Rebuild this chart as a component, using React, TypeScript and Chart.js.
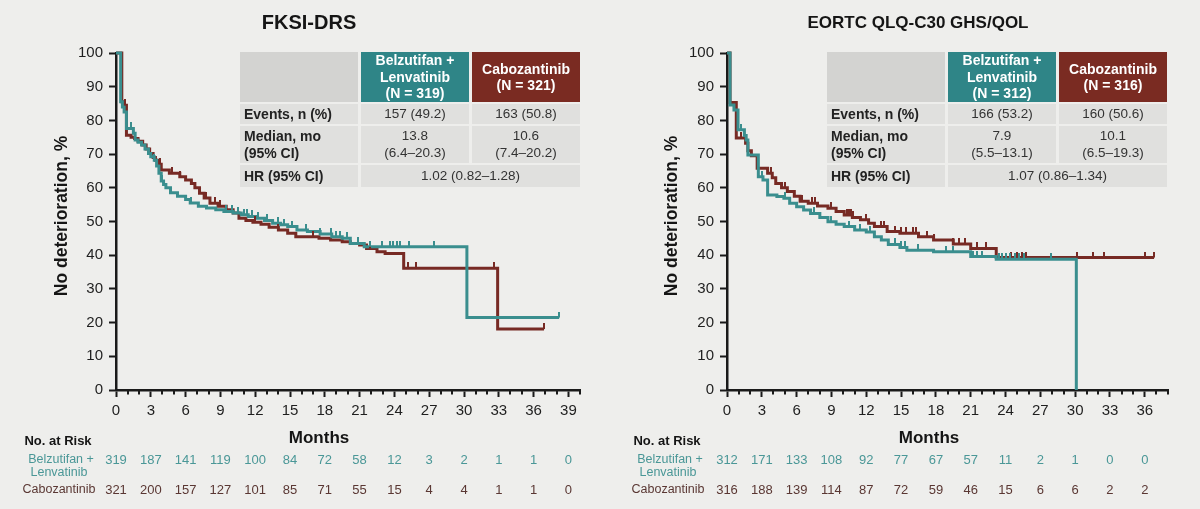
import React, { useEffect, useRef } from "react";
import { Chart, registerables } from "chart.js";

Chart.register(...registerables);

const FONT = "'Liberation Sans', Arial, Helvetica, sans-serif";
const BG = "#eeeeec";
const AXIS = "#1a1a1a";
const TEAL = "#3a8e8e";
const BROWN = "#772a24";
const TEAL_HEAD = "#2f8587";
const BROWN_HEAD = "#7a2b22";
const TEAL_TEXT = "#4a9797";
const BROWN_TEXT = "#5a3733";

// ---------- FKSI-DRS ----------
const fksiBelzLenTimes = [0, 0.4, 0.55, 0.7, 0.9, 1.5, 1.65, 1.9, 2.2, 2.5, 2.8, 3.0, 3.3, 3.5, 3.7, 3.9, 4.1, 4.3, 4.7, 5.3, 6.0, 6.4, 7.1, 7.8, 8.6, 9.3, 10.1, 10.8, 11.4, 12.1, 12.8, 13.5, 14.2, 14.8, 15.6, 16.5, 17.6, 18.6, 19.5, 20.2, 21.4, 30.25, 38.2];
const fksiBelzLenValues = [100, 85.5, 84, 82.5, 77.6, 76.2, 74.2, 73.5, 72.7, 71.5, 70.2, 69.2, 68.2, 66.5, 64.3, 62, 61, 60, 58.5, 57.5, 56.5, 55.5, 54.5, 54, 53.5, 53, 52.5, 52, 51.5, 51, 50.3, 49.5, 49, 48.5, 47.5, 47, 46.3, 45.5, 45, 43.5, 42.5, 21.5, 21.5];
const fksiCaboTimes = [0, 0.5, 0.7, 0.9, 1.3, 1.6, 1.9, 2.3, 2.6, 2.9, 3.2, 3.4, 3.6, 3.9, 4.6, 5.5, 6.0, 6.5, 6.8, 7.2, 7.6, 8.1, 8.8, 9.5, 10.1, 10.6, 11.2, 11.8, 12.5, 13.2, 14.0, 14.8, 15.5, 17.5, 18.5, 19.5, 20.2, 21.0, 21.6, 22.5, 23.2, 24.8, 32.9, 36.9];
const fksiCaboValues = [100, 85.5, 84.5, 75.6, 75, 74.6, 73.8, 72.7, 71.5, 70.2, 69, 68.2, 67, 65.3, 64.3, 63.3, 62.3, 61.3, 60, 58.4, 57, 55.4, 54.5, 53.5, 52.5, 51, 50.3, 49.8, 49.2, 48.3, 47.5, 46.5, 45.5, 45, 44.5, 44, 43.5, 43, 42, 41, 40.5, 36.1, 18.1, 18.1];
const fksiBelzLenCensored = [1.3, 3.3, 4.0, 6.5, 9.5, 10.0, 10.5, 11.0, 11.3, 11.7, 12.2, 13.0, 14.0, 14.5, 15.2, 16.4, 17.6, 18.5, 19.0, 19.3, 19.9, 20.9, 21.9, 22.9, 23.6, 23.9, 24.2, 24.5, 25.3, 27.4, 38.2];
const fksiCaboCensored = [0.8, 3.8, 4.8, 5.5, 7.8, 8.5, 9.0, 12.0, 14.0, 17.0, 21.9, 25.2, 25.9, 32.6, 36.9];
const fksiRiskMonths = [0, 3, 6, 9, 12, 15, 18, 21, 24, 27, 30, 33, 36, 39];
const fksiRiskBelzLen = [319, 187, 141, 119, 100, 84, 72, 58, 12, 3, 2, 1, 1, 0];
const fksiRiskCabo = [321, 200, 157, 127, 101, 85, 71, 55, 15, 4, 4, 1, 1, 0];
const fksiN = [319, 321];
const fksiEvents = ["157 (49.2)", "163 (50.8)"];
const fksiMedian = ["13.8", "10.6"];
const fksiMedianCI = ["(6.4\u201320.3)", "(7.4\u201320.2)"];
const fksiHR = "1.02 (0.82\u20131.28)";

// ---------- EORTC QLQ-C30 GHS/QOL ----------
const eortcBelzLenTimes = [0, 0.26, 0.6, 0.95, 1.5, 1.65, 1.8, 2.7, 3.1, 3.5, 4.3, 4.9, 5.4, 6.0, 6.6, 7.2, 8.0, 8.7, 9.4, 10.1, 11.0, 12.0, 12.7, 13.3, 13.9, 14.9, 15.5, 17.8, 21.0, 23.2, 30.1];
const eortcBelzLenValues = [100, 84.6, 83.1, 77.2, 75.5, 74.2, 69.7, 63.3, 62.3, 57.9, 57.4, 56.9, 55.4, 54.4, 53.4, 52.4, 51.2, 49.9, 49.2, 48.5, 47.5, 46.9, 45.5, 44.5, 43.2, 42.3, 41.5, 41, 39.6, 38.8, 0];
const eortcCaboTimes = [0, 0.26, 0.8, 1.6, 1.8, 2.1, 2.6, 3.5, 3.9, 4.2, 4.7, 5.2, 5.8, 6.3, 7.0, 7.8, 8.7, 9.4, 10.1, 10.8, 11.5, 12.2, 12.7, 13.8, 14.9, 16.5, 17.8, 19.5, 21.0, 23.2, 36.8];
const eortcCaboValues = [100, 85.3, 74.8, 73.2, 71, 69.5, 65.8, 64.3, 63, 61.3, 60, 58.9, 57.5, 56, 55.4, 54.6, 53.9, 53, 51.9, 51.2, 50.5, 49.5, 48.5, 47, 46.5, 45.5, 44.5, 43.3, 42, 39.3, 39.3];
const eortcBelzLenCensored = [1.2, 3.0, 5.0, 7.5, 9.0, 10.5, 11.5, 12.3, 14.5, 15.0, 15.3, 16.5, 18.9, 19.5, 21.2, 21.5, 22.0, 23.4, 23.7, 24.0, 24.4, 24.8, 25.2, 25.6, 27.9];
const eortcCaboCensored = [1.2, 3.8, 5.0, 6.5, 7.3, 7.6, 9.0, 10.3, 10.5, 10.7, 10.9, 12.0, 13.3, 13.5, 14.5, 15.0, 15.4, 16.0, 16.3, 17.2, 17.8, 19.5, 20.0, 20.5, 21.5, 22.3, 24.5, 25.0, 25.4, 25.8, 30.2, 31.5, 32.5, 36.0, 36.8];
const eortcRiskMonths = [0, 3, 6, 9, 12, 15, 18, 21, 24, 27, 30, 33, 36];
const eortcRiskBelzLen = [312, 171, 133, 108, 92, 77, 67, 57, 11, 2, 1, 0, 0];
const eortcRiskCabo = [316, 188, 139, 114, 87, 72, 59, 46, 15, 6, 6, 2, 2];
const eortcN = [312, 316];
const eortcEvents = ["166 (53.2)", "160 (50.6)"];
const eortcMedian = ["7.9", "10.1"];
const eortcMedianCI = ["(5.5\u201313.1)", "(6.5\u201319.3)"];
const eortcHR = "1.07 (0.86\u20131.34)";

type PanelProps = {
  title: string;
  titleSize: number;
  titleX: number;
  monthsX: number;
  xMax: number;
  belzTimes: number[];
  belzValues: number[];
  caboTimes: number[];
  caboValues: number[];
  belzCensored: number[];
  caboCensored: number[];
  riskMonths: number[];
  riskBelz: number[];
  riskCabo: number[];
  n: number[];
  events: string[];
  median: string[];
  medianCI: string[];
  hr: string;
  offsetX: number;
  plotLeft: number;
  plotRight: number;
  tableLeft: number;
  labelX: number;
  yTitleX: number;
};

const PLOT_TOP = 53;
const PLOT_BOTTOM = 390;
const CANVAS_W = 600;
const CANVAS_H = 509;

// survival level of a step curve at month t
function levelAt(times: number[], values: number[], t: number) {
  let v = values[0];
  for (let i = 0; i < times.length; i++) if (times[i] <= t) v = values[i];
  return v;
}

// upward censoring tick used as a point image
function censorMark(color: string) {
  const c = document.createElement("canvas");
  c.width = 2;
  c.height = 12;
  const g = c.getContext("2d")!;
  g.fillStyle = color;
  g.fillRect(0, 0, 2, 6);
  return c;
}

function KMPanel(p: PanelProps) {
  const ref = useRef<HTMLCanvasElement | null>(null);

  useEffect(() => {
    if (!ref.current) return;
    const belzCurve = p.belzTimes.map((t, i) => ({ x: t, y: p.belzValues[i] }));
    const caboCurve = p.caboTimes.map((t, i) => ({ x: t, y: p.caboValues[i] }));
    const belzMarks = p.belzCensored.map((t) => ({ x: t, y: levelAt(p.belzTimes, p.belzValues, t) }));
    const caboMarks = p.caboCensored.map((t) => ({ x: t, y: levelAt(p.caboTimes, p.caboValues, t) }));

    const textPlugin = {
      id: "panelText",
      afterDraw(chart: any) {
        const { ctx, chartArea } = chart;
        const xs = chart.scales.x;
        ctx.save();
        ctx.textAlign = "center";
        ctx.textBaseline = "middle";
        ctx.fillStyle = "#151515";

        ctx.font = `bold ${p.titleSize}px ${FONT}`;
        ctx.fillText(p.title, p.titleX, 23);

        ctx.save();
        ctx.translate(p.yTitleX, 216);
        ctx.rotate(-Math.PI / 2);
        ctx.font = `bold 17.5px ${FONT}`;
        ctx.fillText("No deterioration, %", 0, 0);
        ctx.restore();

        // minor month ticks
        ctx.strokeStyle = AXIS;
        ctx.lineWidth = 2;
        for (let m = xs.min; m <= xs.max; m++) {
          if (m % 3 === 0) continue;
          const px = Math.round(xs.getPixelForValue(m));
          ctx.beginPath();
          ctx.moveTo(px, chartArea.bottom);
          ctx.lineTo(px, chartArea.bottom + 4.5);
          ctx.stroke();
        }

        ctx.fillStyle = "#151515";
        ctx.font = `bold 17px ${FONT}`;
        ctx.fillText("Months", p.monthsX, 438);

        ctx.font = `bold 13px ${FONT}`;
        ctx.fillText("No. at Risk", p.labelX - 2, 441);

        ctx.font = `12.5px ${FONT}`;
        ctx.fillStyle = TEAL_TEXT;
        ctx.fillText("Belzutifan +", p.labelX + 1, 460);
        ctx.fillText("Lenvatinib", p.labelX - 1, 473);
        ctx.fillStyle = BROWN_TEXT;
        ctx.fillText("Cabozantinib", p.labelX - 1, 490);

        ctx.font = `13px ${FONT}`;
        p.riskMonths.forEach((m, i) => {
          const px = xs.getPixelForValue(m);
          ctx.fillStyle = TEAL_TEXT;
          ctx.fillText(String(p.riskBelz[i]), px, 460);
          ctx.fillStyle = BROWN_TEXT;
          ctx.fillText(String(p.riskCabo[i]), px, 490);
        });
        ctx.restore();
      },
    };

    const chart = new Chart(ref.current, {
      type: "line",
      data: {
        datasets: [
          {
            data: belzMarks,
            showLine: false,
            pointStyle: censorMark(TEAL) as any,
            pointRadius: 3,
            pointHoverRadius: 3,
          },
          {
            data: caboMarks,
            showLine: false,
            pointStyle: censorMark(BROWN) as any,
            pointRadius: 3,
            pointHoverRadius: 3,
          },
          {
            data: belzCurve,
            stepped: "before",
            borderColor: TEAL,
            borderWidth: 3,
            pointRadius: 0,
            fill: false,
            clip: false as any,
          },
          {
            data: caboCurve,
            stepped: "before",
            borderColor: BROWN,
            borderWidth: 3,
            pointRadius: 0,
            fill: false,
            clip: false as any,
          },
        ],
      },
      options: {
        animation: false,
        responsive: false,
        devicePixelRatio: 1,
        events: [],
        layout: {
          padding: {
            left: p.plotLeft - 60,
            top: PLOT_TOP,
            right: CANVAS_W - p.plotRight,
            bottom: CANVAS_H - PLOT_BOTTOM - 30,
          },
        },
        plugins: {
          legend: { display: false },
          title: { display: false },
          tooltip: { enabled: false },
        },
        scales: {
          x: {
            type: "linear",
            min: 0,
            max: p.xMax,
            afterFit: (s: any) => {
              s.height = 30;
            },
            border: { color: AXIS, width: 2.5 },
            grid: {
              drawOnChartArea: false,
              drawTicks: true,
              tickLength: 7,
              tickWidth: 2,
              tickColor: (c: any) => (c.tick && c.tick.value % 3 === 0 ? AXIS : "rgba(0,0,0,0)"),
            },
            ticks: {
              stepSize: 1,
              autoSkip: false,
              maxTicksLimit: 100,
              maxRotation: 0,
              padding: 5,
              color: "#1f1f1f",
              font: { family: FONT, size: 15 },
              callback: (v: any) => (Number(v) % 3 === 0 ? String(v) : ""),
            },
          },
          y: {
            min: 0,
            max: 100,
            afterFit: (s: any) => {
              s.width = 60;
            },
            border: { color: AXIS, width: 2.5 },
            grid: {
              drawOnChartArea: false,
              tickLength: 7,
              tickWidth: 2,
              tickColor: AXIS,
            },
            ticks: {
              stepSize: 10,
              padding: 6,
              color: "#1f1f1f",
              font: { family: FONT, size: 15 },
            },
          },
        },
      },
      plugins: [textPlugin],
    });
    return () => chart.destroy();
  }, []);

  const cellBase: React.CSSProperties = {
    background: "#e0e0de",
    display: "flex",
    alignItems: "center",
    fontSize: 13.5,
    color: "#333",
  };
  const label: React.CSSProperties = {
    ...cellBase,
    fontWeight: "bold",
    fontSize: 14,
    color: "#222",
    paddingLeft: 4,
    lineHeight: "16.5px",
  };
  const value: React.CSSProperties = {
    ...cellBase,
    justifyContent: "center",
    textAlign: "center",
    lineHeight: "16.5px",
  };
  const head: React.CSSProperties = {
    display: "flex",
    alignItems: "center",
    justifyContent: "center",
    textAlign: "center",
    color: "#fff",
    fontWeight: "bold",
    fontSize: 14,
    lineHeight: "16.5px",
    overflow: "hidden",
  };

  return (
    <div style={{ position: "absolute", left: p.offsetX, top: 0, width: CANVAS_W, height: CANVAS_H }}>
      <canvas ref={ref} width={CANVAS_W} height={CANVAS_H} style={{ display: "block", width: CANVAS_W, height: CANVAS_H }} />
      <div
        style={{
          position: "absolute",
          left: p.tableLeft,
          top: 52,
          display: "grid",
          gridTemplateColumns: "118px 108px 108px",
          gridTemplateRows: "50px 20px 37px 22px",
          columnGap: 3,
          rowGap: 2,
          fontFamily: FONT,
        }}
      >
        <div style={{ background: "#d3d3d1" }} />
        <div style={{ ...head, background: TEAL_HEAD }}>
          <div>
            Belzutifan +<br />
            Lenvatinib<br />
            (N = {p.n[0]})
          </div>
        </div>
        <div style={{ ...head, background: BROWN_HEAD }}>
          <div>
            Cabozantinib<br />
            (N = {p.n[1]})
          </div>
        </div>

        <div style={label}>Events, n (%)</div>
        <div style={value}>{p.events[0]}</div>
        <div style={value}>{p.events[1]}</div>

        <div style={label}>
          <div>
            Median, mo<br />
            (95% CI)
          </div>
        </div>
        <div style={value}>
          <div>
            {p.median[0]}
            <br />
            {p.medianCI[0]}
          </div>
        </div>
        <div style={value}>
          <div>
            {p.median[1]}
            <br />
            {p.medianCI[1]}
          </div>
        </div>

        <div style={label}>HR (95% CI)</div>
        <div style={{ ...value, gridColumn: "2 / span 2" }}>{p.hr}</div>
      </div>
    </div>
  );
}

export default function App() {
  return (
    <div
      style={{
        position: "fixed",
        left: 0,
        top: 0,
        width: 1200,
        height: 509,
        background: BG,
        overflow: "hidden",
        fontFamily: FONT,
      }}
    >
      <KMPanel
        title="FKSI-DRS"
        titleSize={20}
        titleX={309}
        monthsX={319}
        xMax={40}
        belzTimes={fksiBelzLenTimes}
        belzValues={fksiBelzLenValues}
        caboTimes={fksiCaboTimes}
        caboValues={fksiCaboValues}
        belzCensored={fksiBelzLenCensored}
        caboCensored={fksiCaboCensored}
        riskMonths={fksiRiskMonths}
        riskBelz={fksiRiskBelzLen}
        riskCabo={fksiRiskCabo}
        n={fksiN}
        events={fksiEvents}
        median={fksiMedian}
        medianCI={fksiMedianCI}
        hr={fksiHR}
        offsetX={0}
        plotLeft={116}
        plotRight={580}
        tableLeft={240}
        labelX={60}
        yTitleX={62}
      />
      <KMPanel
        title="EORTC QLQ-C30 GHS/QOL"
        titleSize={17}
        titleX={318}
        monthsX={329}
        xMax={38}
        belzTimes={eortcBelzLenTimes}
        belzValues={eortcBelzLenValues}
        caboTimes={eortcCaboTimes}
        caboValues={eortcCaboValues}
        belzCensored={eortcBelzLenCensored}
        caboCensored={eortcCaboCensored}
        riskMonths={eortcRiskMonths}
        riskBelz={eortcRiskBelzLen}
        riskCabo={eortcRiskCabo}
        n={eortcN}
        events={eortcEvents}
        median={eortcMedian}
        medianCI={eortcMedianCI}
        hr={eortcHR}
        offsetX={600}
        plotLeft={127}
        plotRight={568}
        tableLeft={227}
        labelX={69}
        yTitleX={72}
      />
    </div>
  );
}
